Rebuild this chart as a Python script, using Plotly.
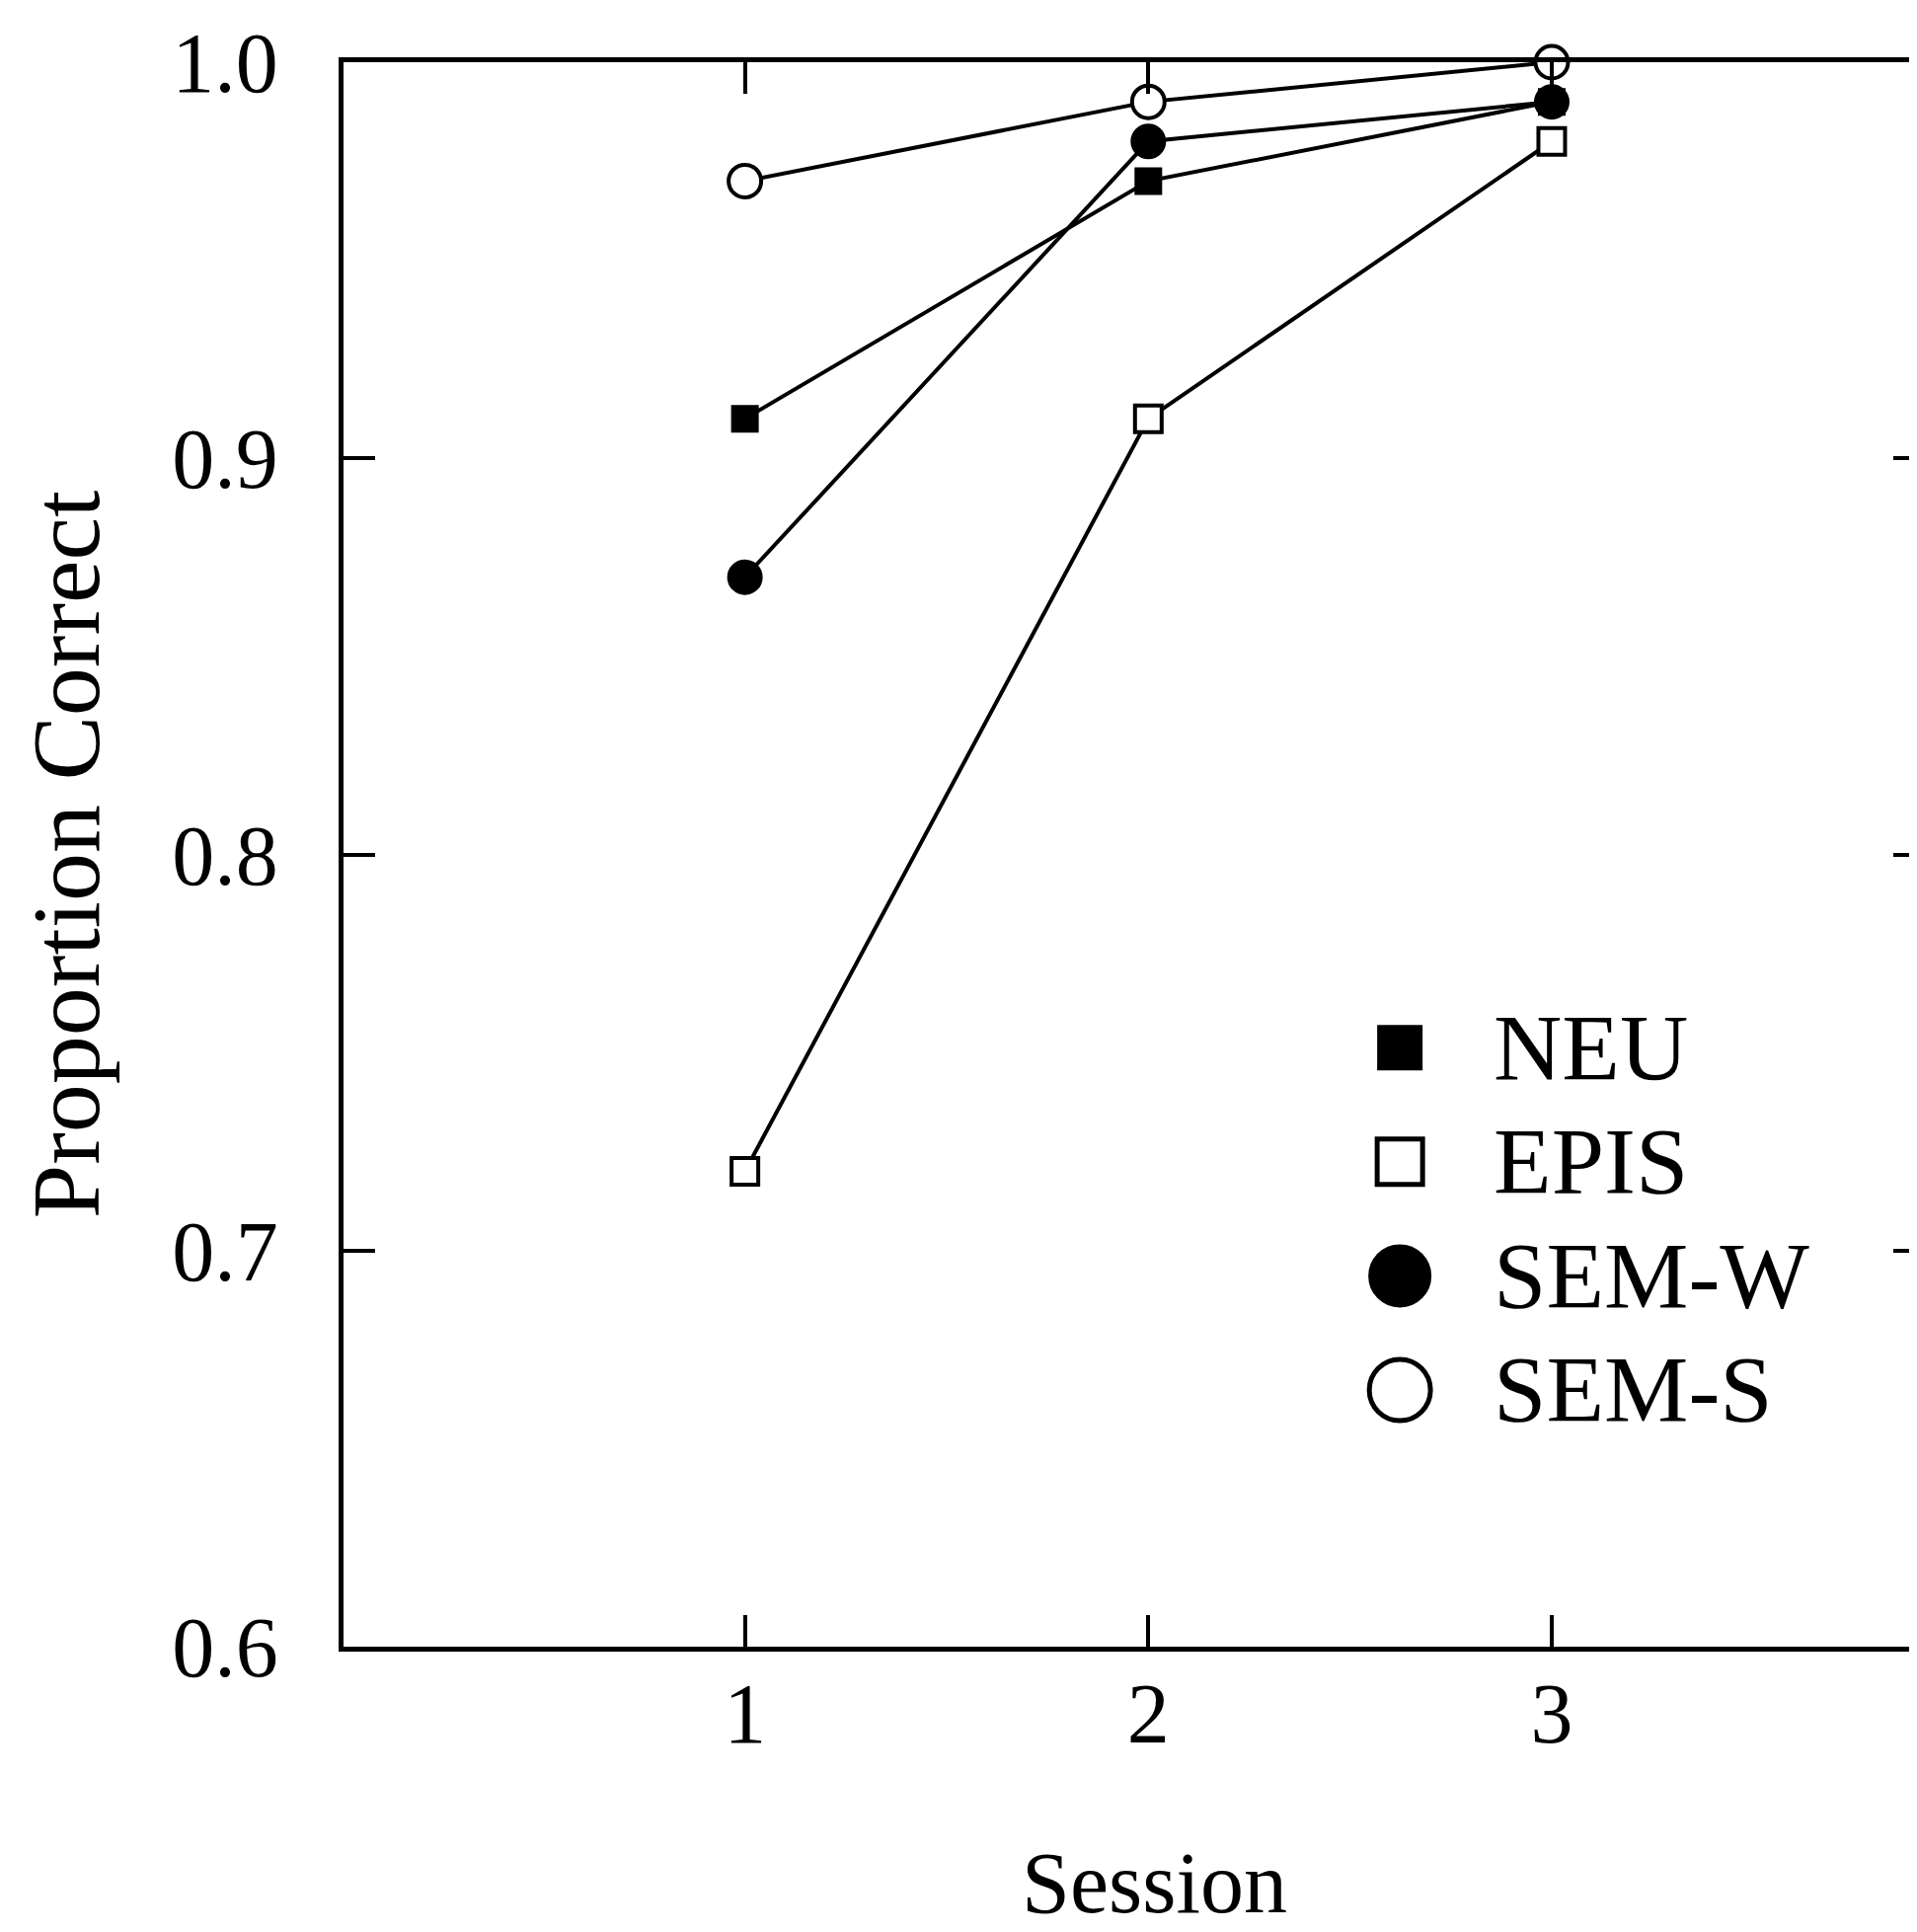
import plotly.graph_objects as go

sessions = [1, 2, 3]
series_names = ["NEU", "EPIS", "SEM-W", "SEM-S"]
neu = [0.91, 0.97, 0.99]
epis = [0.72, 0.91, 0.98]
sem_w = [0.87, 0.98, 0.99]
sem_s = [0.97, 0.99, 1.00]
y_ticks = [0.6, 0.7, 0.8, 0.9, 1.0]

FONT = "Liberation Serif"
W, H = 1942, 1957
ML, MR, MT, MB = 340, 0, 55, 297

styles = {
    "NEU": dict(symbol="square", size=26, color="black", line=dict(color="black", width=2)),
    "EPIS": dict(symbol="square", size=27, color="white", line=dict(color="black", width=4)),
    "SEM-W": dict(symbol="circle", size=34, color="black", line=dict(color="black", width=2)),
    "SEM-S": dict(symbol="circle", size=33, color="white", line=dict(color="black", width=4)),
}
legend_styles = {
    "NEU": dict(symbol="square", size=44, color="black", line=dict(color="black", width=2)),
    "EPIS": dict(symbol="square", size=46, color="white", line=dict(color="black", width=5)),
    "SEM-W": dict(symbol="circle", size=62, color="black", line=dict(color="black", width=2)),
    "SEM-S": dict(symbol="circle", size=62, color="white", line=dict(color="black", width=5)),
}
data = {"NEU": neu, "EPIS": epis, "SEM-W": sem_w, "SEM-S": sem_s}

fig = go.Figure()
for name in ["EPIS", "NEU", "SEM-W", "SEM-S"]:
    fig.add_trace(go.Scatter(
        x=sessions, y=data[name], mode="lines+markers", name=name,
        line=dict(color="black", width=4),
        marker=styles[name], cliponaxis=False, showlegend=False,
    ))

# legend drawn on an overlay axis (0..1 units)
leg_x_marker = 0.668
leg_x_text = 0.726
leg_top = 0.378
leg_step = 0.072
for i, name in enumerate(series_names):
    yy = leg_top - i * leg_step
    fig.add_trace(go.Scatter(
        x=[leg_x_marker], y=[yy], mode="markers", xaxis="x2", yaxis="y2",
        marker=legend_styles[name], showlegend=False, cliponaxis=False,
    ))
    fig.add_annotation(
        x=leg_x_text, y=yy, xref="x2", yref="y2", text=name, showarrow=False,
        xanchor="left", yanchor="middle",
        font=dict(family=FONT, size=96, color="black"),
    )

# x-axis title as a paper annotation
fig.add_annotation(
    x=0.5125, y=-0.1495, xref="paper", yref="paper", text="Session", showarrow=False,
    xanchor="center", yanchor="middle",
    font=dict(family=FONT, size=88, color="black"),
)

axis_common = dict(
    showline=True, linecolor="black", linewidth=5, mirror="ticks",
    ticks="inside", ticklen=32, tickwidth=4, tickcolor="black",
    showgrid=False, zeroline=False,
    tickfont=dict(family=FONT, size=86, color="black"),
)

fig.update_layout(
    width=W, height=H,
    margin=dict(l=ML, r=MR, t=MT, b=MB, autoexpand=False),
    paper_bgcolor="white", plot_bgcolor="white",
    font=dict(family=FONT, color="black"),
    xaxis=dict(
        range=[0.005, 3.925], tickvals=sessions, ticktext=[str(s) for s in sessions],
        ticklabelstandoff=-11,
        **axis_common,
    ),
    yaxis=dict(
        range=[0.6, 1.0], tickvals=y_ticks, ticktext=[f"{v:.1f}" for v in y_ticks],
        ticklabelstandoff=44,
        title=dict(text="Proportion Correct", font=dict(family=FONT, size=98, color="black"), standoff=42),
        **axis_common,
    ),
    xaxis2=dict(overlaying="x", range=[0, 1], visible=False),
    yaxis2=dict(overlaying="y", range=[0, 1], visible=False),
    showlegend=False,
)

fig.write_html("out.html")
